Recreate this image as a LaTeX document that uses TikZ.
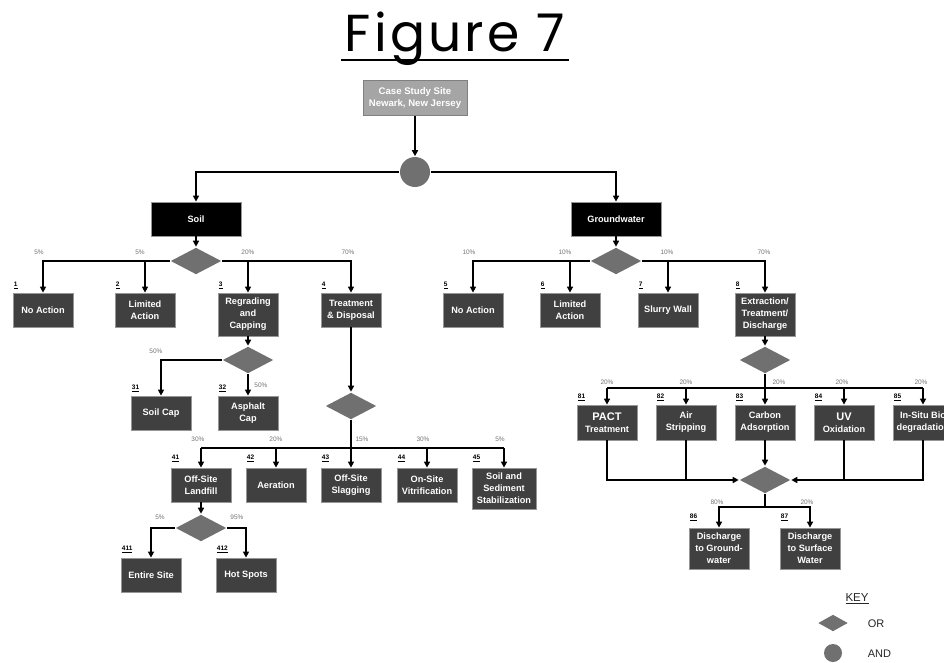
\documentclass[tikz,border=0pt]{standalone}
\usepackage{fontspec}
\setmainfont{Liberation Sans}
\newfontfamily\titlefont[LetterSpace=6]{Poppins}
\usetikzlibrary{arrows.meta, calc, positioning, shapes.geometric}
\definecolor{boxgray}{RGB}{64,64,64}
\definecolor{edgegray}{RGB}{150,150,150}
\definecolor{gategray}{RGB}{112,112,112}
\definecolor{casegray}{RGB}{165,165,165}
\definecolor{pctgray}{RGB}{115,115,115}

\begin{document}
\begin{tikzpicture}[x=1pt, y=-1pt, line width=1.6pt, >={Triangle[length=6pt,width=6pt]},
    optbox/.style={draw=edgegray, line width=0.8pt, fill=boxgray, text=white, align=center,
        font=\fontsize{9.2}{12}\selectfont\bfseries, minimum width=60, minimum height=34, inner sep=1pt},
    media/.style={optbox, fill=black, minimum width=90},
    orgate/.style={diamond, fill=gategray, inner sep=0pt, minimum width=51, minimum height=27},
    andgate/.style={circle, fill=gategray, inner sep=0pt, minimum size=30},
    pct/.style={text=pctgray, font=\fontsize{6.5}{7}\selectfont, inner sep=0pt},
    num/.style={font=\fontsize{6.5}{7}\selectfont\bfseries, inner sep=0.5pt},
    keytext/.style={anchor=west, text=black!85, font=\fontsize{11}{12}\selectfont, inner sep=0pt}]
    \useasboundingbox (0,0) rectangle (944,663);

    % title
    \node[font=\titlefont\fontsize{52}{52}\selectfont, anchor=base, inner xsep=0pt] (title) at (455,52) {Figure 7};
    \draw[line width=1.6pt] ($(title.base west)+(-3,8)$) -- ($(title.base east)+(3,8)$);

    % site and media
    \node[optbox, fill=casegray, draw=gray, minimum width=104, minimum height=35, inner sep=0.5pt,
        font=\fontsize{9.6}{12.5}\selectfont\bfseries] (case) at (415,98) {Case Study Site\\Newark, New Jersey};
    \node[andgate] (andg) at (415,172) {};
    \node[media] (soil) at (196,219) {Soil};
    \node[media] (gw) at (616,219) {Groundwater};
    \draw[->] (case) -- (andg);
    \draw[->] (andg.west) -| (soil.north);
    \draw[->] (andg.east) -| (gw.north);

    % soil alternatives
    \node[orgate] (sor) at (196,261) {};
    \node[optbox] (s1) at (43,310) {No Action};
    \node[optbox] (s2) at (145,310) {Limited\\Action};
    \node[optbox, minimum height=43] (s3) at (248,314.5) {Regrading\\and\\Capping};
    \node[optbox] (s4) at (351,310) {Treatment\\\& Disposal};
    \draw[->] (soil) -- (sor);
    \draw[->] (sor.west) -| (s1.north);
    \draw[->] (sor.east) -| (s4.north);
    \draw[->] (s2.north |- sor.west) -- (s2.north);
    \draw[->] (s3.north |- sor.east) -- (s3.north);
    \node[pct] (p1) at (39,252) {5\%};
    \node[pct] (p2) at (140,252) {5\%};
    \node[pct] (p3) at (248,252) {20\%};
    \node[pct] (p4) at (348,252) {70\%};
    \node[num, above right=3pt and 0pt of s1.north west] (n1) {\underline{1}};
    \node[num, above right=3pt and 0pt of s2.north west] (n2) {\underline{2}};
    \node[num, above right=3pt and 0pt of s3.north west] (n3) {\underline{3}};
    \node[num, above right=3pt and 0pt of s4.north west] (n4) {\underline{4}};

    % capping
    \node[orgate] (rdia) at (248,360) {};
    \node[optbox] (s31) at (161,413) {Soil Cap};
    \node[optbox] (s32) at (248,413) {Asphalt\\Cap};
    \draw[->] (s3) -- (rdia);
    \draw[->] (rdia.west) -| (s31.north);
    \draw[->] (rdia) -- (s32);
    \node[pct] (p31) at (156,351) {50\%};
    \node[pct] (p32) at (261,385) {50\%};
    \node[num, above right=3pt and 0pt of s31.north west] (n31) {\underline{31}};
    \node[num, above right=3pt and 0pt of s32.north west] (n32) {\underline{32}};

    % treatment and disposal
    \node[orgate] (tdia) at (351,406) {};
    \node[optbox] (s41) at (201,485) {Off-Site\\Landfill};
    \node[optbox] (s42) at (276,485) {Aeration};
    \node[optbox] (s43) at (351,485) {Off-Site\\Slagging};
    \node[optbox] (s44) at (427,485) {On-Site\\Vitrification};
    \node[optbox, minimum width=64, minimum height=41] (s45) at (504,488.5) {Soil and\\Sediment\\Stabilization};
    \coordinate (tbar) at (351,448);
    \draw[->] (s4) -- (tdia);
    \draw[->] (tdia) -- (s43);
    \draw (s41.north |- tbar) -- (s45.north |- tbar);
    \draw[->] (s41.north |- tbar) -- (s41.north);
    \draw[->] (s42.north |- tbar) -- (s42.north);
    \draw[->] (s44.north |- tbar) -- (s44.north);
    \draw[->] (s45.north |- tbar) -- (s45.north);
    \node[pct] (p41) at (198,439) {30\%};
    \node[pct] (p42) at (276,439) {20\%};
    \node[pct] (p43) at (362,439) {15\%};
    \node[pct] (p44) at (423,439) {30\%};
    \node[pct] (p45) at (500,439) {5\%};
    \node[num, above right=5pt and 0pt of s41.north west] (n41) {\underline{41}};
    \node[num, above right=5pt and 0pt of s42.north west] (n42) {\underline{42}};
    \node[num, above right=5pt and 0pt of s43.north west] (n43) {\underline{43}};
    \node[num, above right=5pt and 0pt of s44.north west] (n44) {\underline{44}};
    \node[num, above right=5pt and 0pt of s45.north west] (n45) {\underline{45}};

    % landfill
    \node[orgate] (ldia) at (201,528) {};
    \node[optbox] (s411) at (151,575) {Entire Site};
    \node[optbox] (s412) at (246,575) {Hot Spots};
    \draw[->] (s41) -- (ldia);
    \draw[->] (ldia.west) -| (s411.north);
    \draw[->] (ldia.east) -| (s412.north);
    \node[pct] (p411) at (160,517) {5\%};
    \node[pct] (p412) at (237,517) {95\%};
    \node[num, above right=4pt and 0pt of s411.north west] (n411) {\underline{411}};
    \node[num, above right=4pt and 0pt of s412.north west] (n412) {\underline{412}};

    % groundwater alternatives
    \node[orgate] (gor) at (616,261) {};
    \node[optbox] (s5) at (473,310) {No Action};
    \node[optbox] (s6) at (570,310) {Limited\\Action};
    \node[optbox] (s7) at (668,310) {Slurry Wall};
    \node[optbox, minimum height=43] (s8) at (765,314.5) {Extraction/\\Treatment/\\Discharge};
    \draw[->] (gw) -- (gor);
    \draw[->] (gor.west) -| (s5.north);
    \draw[->] (gor.east) -| (s8.north);
    \draw[->] (s6.north |- gor.west) -- (s6.north);
    \draw[->] (s7.north |- gor.east) -- (s7.north);
    \node[pct] (p5) at (469,252) {10\%};
    \node[pct] (p6) at (565,252) {10\%};
    \node[pct] (p7) at (667,252) {10\%};
    \node[pct] (p8) at (764,252) {70\%};
    \node[num, above right=3pt and 0pt of s5.north west] (n5) {\underline{5}};
    \node[num, above right=3pt and 0pt of s6.north west] (n6) {\underline{6}};
    \node[num, above right=3pt and 0pt of s7.north west] (n7) {\underline{7}};
    \node[num, above right=3pt and 0pt of s8.north west] (n8) {\underline{8}};

    % extraction / treatment
    \node[orgate] (edia) at (765,360) {};
    \node[optbox, minimum height=35] (s81) at (607,422.5) {{\fontsize{11}{12}\selectfont PACT}\\Treatment};
    \node[optbox, minimum height=35] (s82) at (686,422.5) {Air\\Stripping};
    \node[optbox, minimum height=35] (s83) at (765,422.5) {Carbon\\Adsorption};
    \node[optbox, minimum height=35] (s84) at (844,422.5) {{\fontsize{11}{12}\selectfont UV}\\Oxidation};
    \node[optbox, minimum height=35] (s85) at (923,422.5) {In-Situ Bio\\degradation};
    \coordinate (ebar) at (765,388);
    \draw[->] (s8) -- (edia);
    \draw[->] (edia) -- (s83);
    \draw (s81.north |- ebar) -- (s85.north |- ebar);
    \draw[->] (s81.north |- ebar) -- (s81.north);
    \draw[->] (s82.north |- ebar) -- (s82.north);
    \draw[->] (s84.north |- ebar) -- (s84.north);
    \draw[->] (s85.north |- ebar) -- (s85.north);
    \node[pct] (p81) at (607,382) {20\%};
    \node[pct] (p82) at (686,382) {20\%};
    \node[pct] (p83) at (779,382) {20\%};
    \node[pct] (p84) at (842,382) {20\%};
    \node[pct] (p85) at (921,382) {20\%};
    \node[num, above right=3pt and 0pt of s81.north west] (n81) {\underline{81}};
    \node[num, above right=3pt and 0pt of s82.north west] (n82) {\underline{82}};
    \node[num, above right=3pt and 0pt of s83.north west] (n83) {\underline{83}};
    \node[num, above right=3pt and 0pt of s84.north west] (n84) {\underline{84}};
    \node[num, above right=3pt and 0pt of s85.north west] (n85) {\underline{85}};

    % discharge
    \node[orgate] (cdia) at (765,480) {};
    \node[optbox, minimum height=41] (s86) at (719,548.5) {Discharge\\to Ground-\\water};
    \node[optbox, minimum height=41] (s87) at (810,548.5) {Discharge\\to Surface\\Water};
    \coordinate (dbar) at (765,507);
    \draw[->] (s81.south) |- (cdia.west);
    \draw (s82.south) -- (s82.south |- cdia.west);
    \draw[->] (s83) -- (cdia);
    \draw (s84.south) -- (s84.south |- cdia.east);
    \draw[->] (s85.south) |- (cdia.east);
    \draw (cdia) -- (dbar);
    \draw[->] (dbar) -| (s86.north);
    \draw[->] (dbar) -| (s87.north);
    \node[pct] (p86) at (717,502) {80\%};
    \node[pct] (p87) at (807,502) {20\%};
    \node[num, above right=6pt and 0pt of s86.north west] (n86) {\underline{86}};
    \node[num, above right=6pt and 0pt of s87.north west] (n87) {\underline{87}};

    % key
    \node[keytext, anchor=center, font=\fontsize{11.5}{12}\selectfont] (keyt) at (857,599) {\underline{KEY}};
    \node[orgate, minimum width=30, minimum height=17] (kor) at (833,623) {};
    \node[andgate, minimum size=18] (kand) at (833,653) {};
    \node[keytext] (korl) at (867,624) {OR};
    \node[keytext] (kandl) at (867,654) {AND};
\end{tikzpicture}
\end{document}
